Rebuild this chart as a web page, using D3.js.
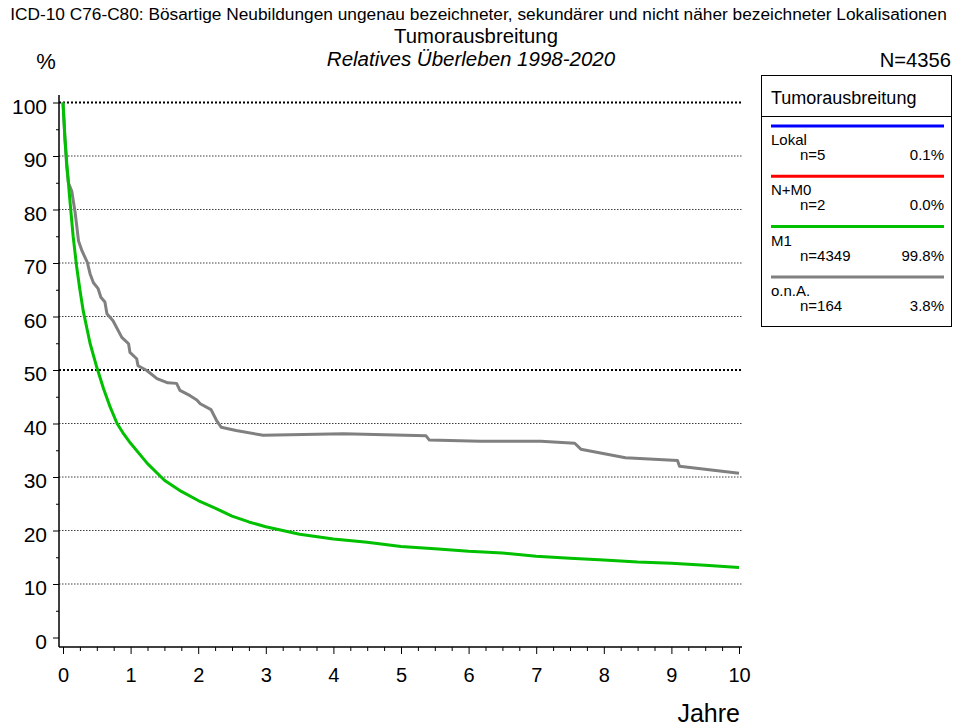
<!DOCTYPE html>
<html><head><meta charset="utf-8">
<script src="https://cdn.jsdelivr.net/npm/d3@7"></script>
<style>body{margin:0;background:#fff}svg{display:block}text{font-family:Arial,"Liberation Sans",sans-serif;fill:#000}</style>
</head><body><svg id="c" width="954" height="726"></svg>
<script>
const yearTicks = [0,1,2,3,4,5,6,7,8,9,10];
const pctTicks = [0,10,20,30,40,50,60,70,80,90,100];
const seriesNames = ["Lokal","N+M0","M1","o.n.A."];
const seriesN = ["n=5","n=2","n=4349","n=164"];
const seriesPct = ["0.1%","0.0%","99.8%","3.8%"];
const seriesColors = ["#0000ff","#ff0000","#00c000","#808080"];
const m1T = [0,0.03,0.06,0.1,0.15,0.2,0.25,0.3,0.4,0.5,0.6,0.7,0.8,0.9,1.0,1.25,1.5,1.75,2.0,2.25,2.5,2.75,3.0,3.5,4.0,4.5,5.0,5.5,6.0,6.5,7.0,7.5,8.0,8.5,9.0,9.5,10.0];
const m1V = [100,93,88,82,75,69.5,65,61,55,50.5,46.5,43,40,38,36.3,32.5,29.4,27.3,25.6,24.2,22.7,21.6,20.7,19.3,18.4,17.8,17.0,16.6,16.1,15.8,15.2,14.8,14.5,14.1,13.9,13.5,13.1];
const onaT = [0,0.03,0.055,0.08,0.13,0.18,0.23,0.28,0.36,0.40,0.45,0.52,0.56,0.62,0.65,0.74,0.87,0.97,0.99,1.09,1.11,1.24,1.39,1.55,1.68,1.73,1.88,1.98,2.03,2.19,2.27,2.34,2.56,2.96,4.15,5.37,5.42,6.17,7.07,7.57,7.66,8.32,9.09,9.12,10.0];
const onaV = [100,93,88,85,83.4,79.4,74.1,72.3,70.1,68,66.3,65.2,63.6,62.7,60.5,59.2,56.1,54.9,53.3,52.1,50.8,49.9,48.4,47.6,47.5,46.2,45.2,44.4,43.7,42.6,40.6,39.3,38.7,37.8,38.1,37.7,36.9,36.7,36.7,36.3,35.2,33.6,33.1,32.0,30.7];

const svg = d3.select("#c");
const x = d3.scaleLinear().domain([0,10]).range([63,739]);
const y = d3.scaleLinear().domain([0,100]).range([637.5,102.5]);
const axX0 = 59, axX1 = 742, axY = 647;

// titles
svg.append("text").attr("x",478.5).attr("y",20).attr("text-anchor","middle").style("font-size","17.3px")
  .text("ICD-10 C76-C80: Bösartige Neubildungen ungenau bezeichneter, sekundärer und nicht näher bezeichneter Lokalisationen");
svg.append("text").attr("x",476).attr("y",43).attr("text-anchor","middle").style("font-size","20.3px").text("Tumorausbreitung");
svg.append("text").attr("x",471).attr("y",66).attr("text-anchor","middle").style("font-size","20.5px").style("font-style","italic").text("Relatives Überleben 1998-2020");
svg.append("text").attr("x",46).attr("y",69).attr("text-anchor","middle").style("font-size","22px").text("%");
svg.append("text").attr("x",951).attr("y",67).attr("text-anchor","end").style("font-size","20.2px").text("N=4356");

// grid
svg.append("g").selectAll("line").data(pctTicks.filter(d=>d>0)).join("line")
  .attr("x1",axX0).attr("x2",axX1).attr("y1",d=>y(d)).attr("y2",d=>y(d))
  .attr("stroke","#000").attr("stroke-dasharray",d=>(d===100||d===50)?"2,2":"1.5,1.5")
  .attr("stroke-width",d=>(d===100||d===50)?2:1).attr("opacity",d=>(d===100||d===50)?1:0.75);

// y axis
const yAxis = d3.axisLeft(y).tickValues(pctTicks).tickSize(6).tickPadding(6);
const gy = svg.append("g").attr("transform",`translate(${axX0},0)`).call(yAxis);
gy.select(".domain").remove();
gy.selectAll("text").style("font-size","21px").attr("dy","0.52em");
gy.selectAll("line").attr("stroke","#000");
svg.append("g").attr("transform",`translate(${axX0},0)`)
  .call(d3.axisLeft(y).tickValues(d3.range(5,100,10)).tickSize(3).tickFormat(""))
  .select(".domain").remove();
svg.append("line").attr("x1",axX0).attr("x2",axX0).attr("y1",95).attr("y2",axY).attr("stroke","#000").attr("stroke-width",1.5);

// x axis
const gx = svg.append("g").attr("transform",`translate(0,${axY})`)
  .call(d3.axisBottom(x).tickValues(yearTicks).tickSize(7).tickPadding(14));
gx.select(".domain").remove();
gx.selectAll("text").style("font-size","20px");
svg.append("g").attr("transform",`translate(0,${axY})`)
  .call(d3.axisBottom(x).tickValues(d3.range(0,10.01,0.25).filter(d=>d%1!==0)).tickSize(4).tickFormat(""))
  .select(".domain").remove();
svg.append("line").attr("x1",axX0).attr("x2",axX1).attr("y1",axY).attr("y2",axY).attr("stroke","#000").attr("stroke-width",1.5);
svg.append("text").attr("x",740).attr("y",722).attr("text-anchor","end").style("font-size","25px").text("Jahre");

// curves
const line = d3.line().x(d=>x(d[0])).y(d=>y(d[1]));
svg.append("path").datum(onaT.map((t,i)=>[t,onaV[i]])).attr("d",line)
  .attr("fill","none").attr("stroke",seriesColors[3]).attr("stroke-width",3).attr("stroke-linejoin","round");
svg.append("path").datum(m1T.map((t,i)=>[t,m1V[i]])).attr("d",line)
  .attr("fill","none").attr("stroke",seriesColors[2]).attr("stroke-width",3).attr("stroke-linejoin","round");

// legend
const lg = svg.append("g");
lg.append("rect").attr("x",761.5).attr("y",75.5).attr("width",190).attr("height",251).attr("fill","none").attr("stroke","#000").attr("stroke-width",1);
lg.append("text").attr("x",771).attr("y",104).style("font-size","18px").text("Tumorausbreitung");
lg.append("line").attr("x1",762).attr("x2",951).attr("y1",116.5).attr("y2",116.5).attr("stroke","#000");
seriesNames.forEach((name,i)=>{
  const y0 = 126 + i*50.3;
  lg.append("line").attr("x1",771).attr("x2",944).attr("y1",y0).attr("y2",y0).attr("stroke",seriesColors[i]).attr("stroke-width",3);
  lg.append("text").attr("x",771).attr("y",y0+19).style("font-size","15px").text(name);
  lg.append("text").attr("x",800).attr("y",y0+34).style("font-size","15px").text(seriesN[i]);
  lg.append("text").attr("x",944).attr("y",y0+34).attr("text-anchor","end").style("font-size","15px").text(seriesPct[i]);
});
</script></body></html>
